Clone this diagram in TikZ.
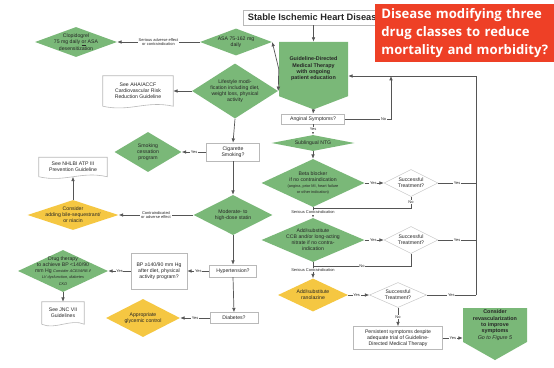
\documentclass[tikz,border=0pt]{standalone}
\usepackage{fontspec}
\setmainfont{Liberation Sans}
\newfontfamily\qfont{Open Sans}
\usepackage{tikz}
\usepackage{xcolor}
\usetikzlibrary{arrows.meta,positioning,shapes.geometric,shapes.symbols,calc}

\definecolor{grn}{RGB}{122,184,120}
\definecolor{ylw}{RGB}{245,199,66}
\definecolor{redbox}{RGB}{238,64,38}
\definecolor{edge}{RGB}{85,85,85}
\newcommand{\tinytxt}{\fontsize{3.3}{4.1}\selectfont}

\begin{document}
\begin{tikzpicture}[
  x=0.03cm, y=-0.03cm,
  every node/.style={font=\fontsize{4.4}{5.2}\selectfont, align=center, text=black!85},
  wh/.style 2 args={minimum width=#1*0.03cm, minimum height=#2*0.03cm,
    /utils/exec={\pgfmathsetmacro\asp{#1/#2}}, aspect=\asp},
  gdia/.style={diamond, fill=grn, inner sep=0pt},
  ydia/.style={diamond, fill=ylw, inner sep=0pt},
  wdia/.style={diamond, draw=gray!45, fill=white, inner sep=0pt},
  qbox/.style={rectangle, draw=gray!55, fill=white, inner sep=1pt},
  doc/.style={rectangle, inner sep=1pt},
  gsig/.style={signal, signal to=south, fill=grn, inner sep=1pt,
    font=\fontsize{4.6}{5.4}\selectfont\bfseries},
  arr/.style={-{Latex[length=1.3mm,width=1.1mm]}, line width=0.6pt, draw=edge},
  ln/.style={line width=0.6pt, draw=edge},
  lbl/.style={fill=white, inner sep=0.6pt, font=\fontsize{3.4}{4}\selectfont},
  docline/.style={draw=gray!55, line width=0.5pt},
]
\fill[white] (0,0) rectangle (554,368);
\useasboundingbox (0,0) rectangle (554,368);

% ---- top: title and therapy ----
\node[qbox, anchor=west, inner xsep=4pt, minimum height=15*0.03cm,
  font=\fontsize{7.9}{8}\selectfont\bfseries] (title) at (243,17.5) {Stable Ischemic Heart Disease};
\node[gsig, wh={69}{64}, signal pointer angle=138] (gdmt) at (313.5,69)
  {Guideline-Directed\\Medical Therapy\\with ongoing\\patient education};

% ---- left column ----
\node[gdia, wh={72}{27}] (asa) at (236,42) {ASA 75-162 mg\\daily};
\node[gdia, wh={82}{30}, inner ysep=-1.5pt] (clop) at (76,42) {Clopidogrel\\75 mg daily \underline{or} ASA\\desensitization};
\node[gdia, wh={86}{55}] (life) at (235,91) {Lifestyle modi-\\fication including diet,\\weight loss, physical\\activity};
\node[doc, wh={70}{30}] (aha) at (138,91) {See AHA/ACCF\\Cardiovascular Risk\\Reduction Guideline};
\node[qbox, wh={53}{18}] (cig) at (233,152) {Cigarette\\Smoking?};
\node[gdia, wh={67}{40}] (smk) at (148,152) {Smoking\\cessation\\program};
\node[gdia, wh={79}{40}] (statin) at (233,215) {Moderate- to\\high-dose statin};
\node[ydia, wh={91}{30}, inner ysep=-2.5pt] (bile) at (73,215) {Consider\\adding bile-sequestrant/\\or niacin};
\node[doc, wh={68}{19}] (atp) at (73,167) {See NHLBI ATP III\\Prevention Guideline};
\node[qbox, wh={47}{12}] (hyp) at (233,271) {Hypertension?};
\node[qbox, wh={56}{36}] (bp) at (159,271) {BP ≥140/90 mm Hg\\after diet, physical\\activity program?};
\node[gdia, wh={90}{42}, inner ysep=-8pt] (drug) at (63,271) {Drug therapy\\to achieve BP <140/90\\mm Hg {\tinytxt\itshape Consider ACEI/ARB if}\\{\tinytxt\itshape LV dysfunction, diabetes}\\{\tinytxt\itshape CKD}};
\node[doc, wh={42}{22}] (jnc) at (63,313) {See JNC VII\\Guidelines};
\node[qbox, wh={48}{11}] (diab) at (234,318) {Diabetes?};
\node[ydia, wh={74}{38}] (gly) at (143,318) {Appropriate\\glycemic control};

% ---- right column ----
\node[qbox, wh={63}{10}] (ang) at (313,119) {Anginal Symptoms?};
\node[gdia, wh={83}{16}] (ntg) at (313,143) {Sublingual NTG};
\node[gdia, wh={103}{48}, inner ysep=-1pt] (beta) at (313,183) {Beta blocker\\if no contraindication\\{\tinytxt (angina, prior MI, heart failure}\\{\tinytxt or other indication)}};
\node[wdia, wh={54}{27}] (s1) at (411,183) {Successful\\Treatment?};
\node[gdia, wh={103}{44}, inner ysep=-1pt] (ccb) at (313,240) {Add/substitute\\CCB and/or long-acting\\nitrate if no contra-\\indication};
\node[wdia, wh={54}{27}] (s2) at (411,240) {Successful\\Treatment?};
\node[ydia, wh={70}{33}] (ran) at (313,295) {Add/substitute\\ranolazine};
\node[wdia, wh={57}{25}] (s3) at (398,295) {Successful\\Treatment?};
\node[qbox, wh={89}{23}] (per) at (398,338) {Persistent symptoms despite\\adequate trial of Guideline-\\Directed Medical Therapy};
\node[gsig, wh={64}{47}, signal pointer angle=121] (rev) at (495,325)
  {Consider\\revascularization\\to improve\\symptoms\\{\mdseries\itshape Go to Figure 5}};

% document outlines with wavy bottom
\foreach \d in {aha,atp,jnc}
  \draw[docline] (\d.south west) -- (\d.north west) -- (\d.north east) -- (\d.south east)
    .. controls ($(\d.south)+(8,-6)$) and ($(\d.south)+(-8,6)$) .. (\d.south west);

% ---- connectors, left ----
\draw[arr] (title.south -| gdmt.north) -- (gdmt.north);
\draw[arr] (gdmt.west) -- (asa.east);
\draw[arr] (gdmt.west) -- (life.east);
\draw[arr] (asa.west) -- (clop.east) node[lbl, midway] {Serious adverse effect\\or contraindication};
\draw[arr] (life.west) -- (aha.east);
\draw[arr] (life.south) -- (cig.north);
\draw[arr] (cig.west) -- (smk.east) node[lbl, midway] {Yes};
\draw[arr] (cig.south) -- (statin.north);
\draw[arr] (statin.west) -- (bile.east) node[lbl, midway] {Contraindicated\\or adverse effect};
\draw[arr] (bile.north) -- (atp.south);
\draw[arr] (statin.south) -- (hyp.north);
\draw[arr] (hyp.west) -- (bp.east) node[lbl, midway] {Yes};
\draw[arr] (bp.west) -- (drug.east) node[lbl, midway] {Yes};
\draw[arr] (drug.south) -- (jnc.north);
\draw[arr] (hyp.south) -- (diab.north);
\draw[arr] (diab.west) -- (gly.east) node[lbl, midway] {Yes};

% ---- connectors, right ----
\coordinate (jn) at (391,76);
\coordinate (rt) at (476,76);
\coordinate (j1) at (313,208);
\coordinate (j2) at (313,266);
\draw[arr] (gdmt.south) -- (ang.north);
\draw[arr] (ang.east) -| node[lbl, pos=0.42] {No} (jn);
\draw[arr] (ang.south) -- (ntg.north) node[lbl, midway] {Yes};
\draw[arr] (ntg.south) -- (beta.north);
\draw[arr] (beta.east) -- (s1.west) node[lbl, pos=0.45] {Yes};
\draw[ln] (s1.south) -- node[lbl] {No} (s1.south |- j1) -- (j1);
\draw[arr] (beta.south) -- (ccb.north) node[lbl, midway] {Serious Contraindication};
\draw[arr] (ccb.east) -- (s2.west) node[lbl, pos=0.45] {Yes};
\draw[ln] (s2.south) |- node[lbl, pos=0.75] {No} (j2);
\draw[arr] (ccb.south) -- (ran.north) node[lbl, midway] {Serious Contraindication};
\draw[arr] (ran.east) -- (s3.west) node[lbl, pos=0.4] {Yes};
\draw[arr] (s3.south) -- (per.north) node[lbl, midway] {No};
\draw[arr] (per.east) -- (per.east -| rev.west) node[lbl, midway] {Yes};
\draw[ln] (s1.east) -- (s1.east -| rt) node[lbl, midway] {Yes};
\draw[ln] (s2.east) -- (s2.east -| rt) node[lbl, midway] {Yes};
\draw[ln] (s3.east) -- (s3.east -| rt) node[lbl, midway] {Yes};
\draw[arr] (s3.east -| rt) -- (rt) -- (gdmt.east |- rt);

% ---- question box ----
\node[anchor=north west, fill=redbox, text=white, align=left, inner xsep=0.185cm,
  text width=5.0cm, minimum height=1.71cm,
  font=\qfont\bfseries\fontsize{11.2}{15.5}\selectfont] (quest) at (375,4)
  {Disease modifying three\\drug classes to reduce\\mortality and morbidity?};
\end{tikzpicture}
\end{document}
